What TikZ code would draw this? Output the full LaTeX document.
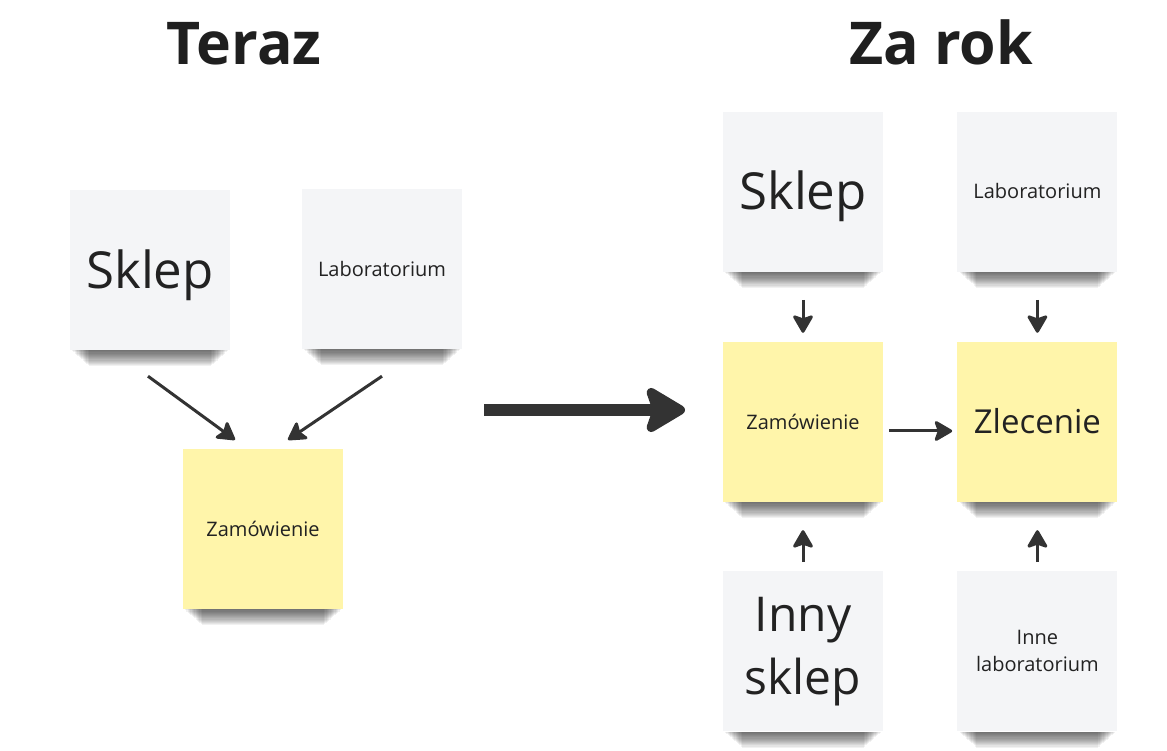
\documentclass[tikz,border=0pt]{standalone}
\usepackage{fontspec}
\setmainfont{Open Sans}
\usepackage{xcolor}
\usetikzlibrary{arrows.meta, positioning}
\definecolor{kartkaszara}{HTML}{F4F5F7}
\definecolor{kartkazolta}{HTML}{FFF5AA}
\definecolor{grafit}{HTML}{333333}
\definecolor{tekst}{HTML}{222222}

\begin{document}
\begin{tikzpicture}[x=1pt, y=1pt,
  kartka/.style={minimum width=160pt, minimum height=160pt, inner sep=0pt, text=tekst},
  szara/.style={kartka, fill=kartkaszara},
  zolta/.style={kartka, fill=kartkazolta},
  duzy/.style={font=\fontsize{51}{63}\selectfont, text height=36.4pt, text depth=0pt},
  sredni/.style={font=\fontsize{33}{40}\selectfont, text height=23.6pt, text depth=0pt},
  maly/.style={font=\fontsize{20}{27}\selectfont, text height=14.3pt, text depth=0pt},
  strzalka/.style={grafit, line width=3pt, -{Stealth[length=20pt, width=23pt, inset=4pt, round]}},
  tytul/.style={font=\fontsize{59}{70}\selectfont\bfseries, text=black!88, anchor=base}]
        \useasboundingbox (0,0) rectangle (1167,750);
        % Tytuly
        \node[tytul] (teraz) at (244,685) {Teraz};
        \node[tytul] (zarok) at (941,685) {Za rok};
        % Teraz
        \node[szara, duzy] (s1) at (150,480) {Sklep};
        \node[szara, maly] (l1) at (382,481) {Laboratorium};
        \node[zolta, maly] (z1) at (263,221) {Zamówienie};
        % Za rok
        \node[zolta, maly] (z2) at (803,328) {Zamówienie};
        \node[zolta, sredni, right=74pt of z2] (zl) {Zlecenie};
        \node[szara, duzy, above=70pt of z2] (s2) {Sklep};
        \node[szara, maly, above=70pt of zl] (l2) {Laboratorium};
        \node[szara, font=\fontsize{48}{63}\selectfont, align=center, below=69pt of z2] (i2) {Inny\\sklep};
        \node[szara, font=\fontsize{20}{27}\selectfont, align=center, below=69pt of zl] (il) {Inne\\laboratorium};
        % Cienie
        \foreach \n in {s1,l1,z1,s2,l2,z2,zl,i2,il} \foreach \k in {1,...,14}
          \fill[black, opacity=0.055] ([xshift=1+1.3*\k]\n.south west) rectangle ([xshift=-1-1.3*\k, yshift=-1.15*\k]\n.south east);
        % Strzalki
        \draw[strzalka] ([xshift=-2pt, yshift=-26pt]s1.south) -- ([xshift=-28pt, yshift=9pt]z1.north);
        \draw[strzalka] ([yshift=-27pt]l1.south) -- ([xshift=25pt, yshift=9pt]z1.north);
        \draw[strzalka, shorten <=28pt, shorten >=9pt] (s2) -- (z2);
        \draw[strzalka, shorten <=28pt, shorten >=9pt] (l2) -- (zl);
        \draw[strzalka, shorten <=9pt, shorten >=28pt] (i2) -- (z2);
        \draw[strzalka, shorten <=9pt, shorten >=28pt] (il) -- (zl);
        \draw[strzalka] ([xshift=6pt, yshift=-9pt]z2.east) -- ([xshift=-5pt, yshift=-9pt]zl.west);
        % Teraz -> Za rok
        \coordinate (zmiana1) at (484,340);
        \coordinate (zmiana2) at (685,340);
        \draw[grafit, line width=12pt, -{Stealth[length=46pt, width=54pt, inset=9pt, round]}] (zmiana1) -- (zmiana2);
      \end{tikzpicture}
\end{document}
